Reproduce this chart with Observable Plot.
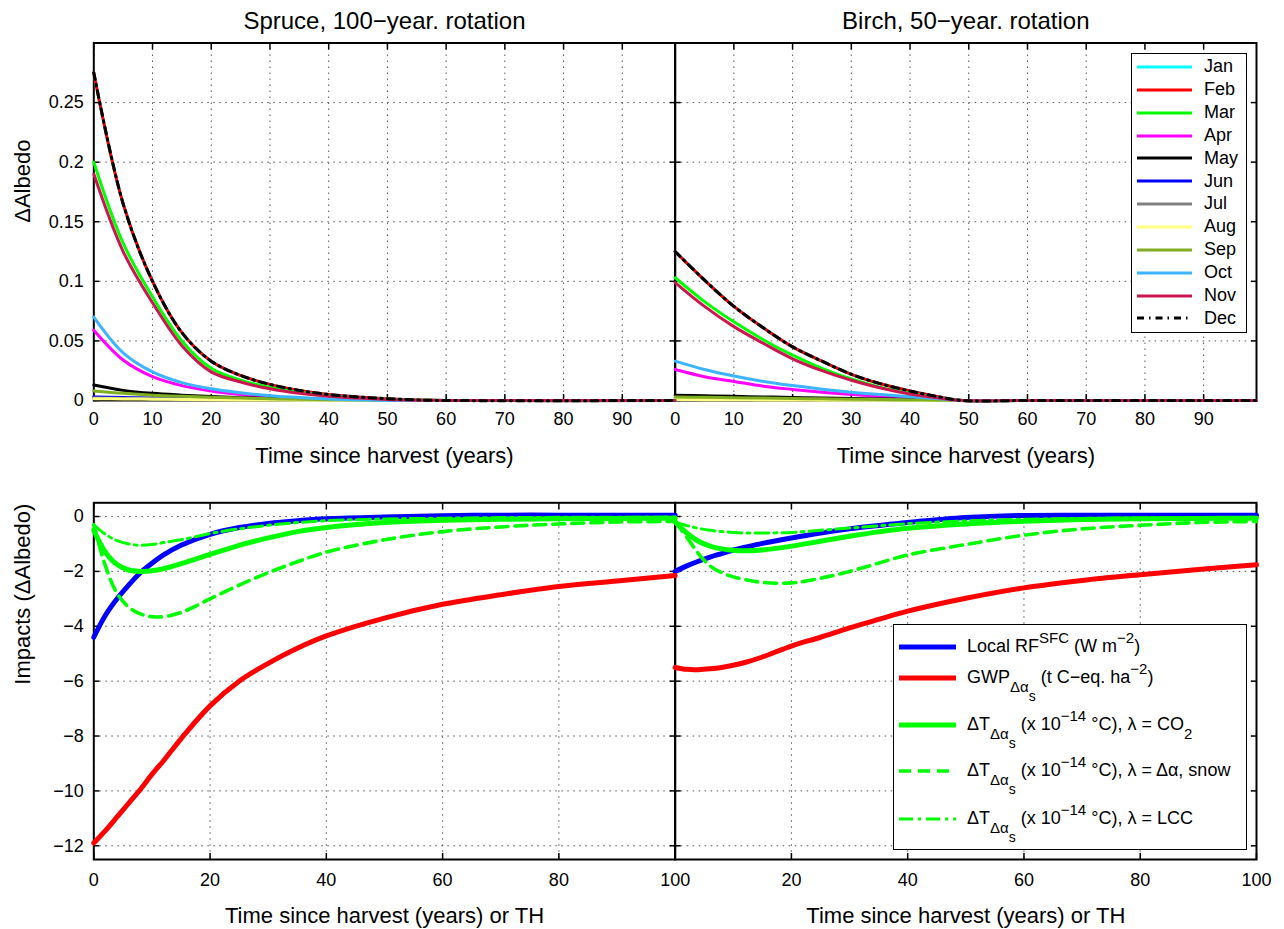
<!DOCTYPE html>
<html>
<head>
<meta charset="utf-8">
<script src="https://cdn.jsdelivr.net/npm/d3@7"></script>
<script src="https://cdn.jsdelivr.net/npm/@observablehq/plot@0.6"></script>
<style>
  html, body { margin: 0; padding: 0; background: #fff; }
  body { font-family: "Liberation Sans", Arial, Helvetica, sans-serif; color: #000; }
  #wrap { position: relative; width: 1284px; height: 929px; overflow: hidden; background: #fff; }
  #wrap > svg { position: absolute; left: 0; overflow: visible; }
  .lgbox { position: absolute; box-sizing: border-box; border: 1.6px solid #000; background: #fff; }
  .lgtext { position: absolute; font-size: 18px; line-height: 18px; white-space: nowrap; }
  .lgline { position: absolute; overflow: visible; }
  .sup { font-size: 15px; position: relative; top: -9px; }
  .sub { font-size: 15px; position: relative; top: 9px; }
  .sub .sub { font-size: 14px; top: 9px; }
</style>
</head>
<body>
<div id="wrap"></div>
<script>
// ---------------- data ----------------
const panels = ["Spruce", "Birch"];
const panelTitles = ["Spruce, 100\u2212year. rotation", "Birch, 50\u2212year. rotation"];
const months = ["Jan","Feb","Mar","Apr","May","Jun","Jul","Aug","Sep","Oct","Nov","Dec"];

const albedoXTicks = [0,10,20,30,40,50,60,70,80,90];
const albedoYTicks = [0,0.05,0.1,0.15,0.2,0.25];
const impactXTicks = [0,20,40,60,80,100];
const impactXTicksRight = [20,40,60,80,100];
const impactYTicks = [0,-2,-4,-6,-8,-10,-12];

// Spruce, 100-year rotation: ΔAlbedo by month
const spruceYears = [0,5,10,15,20,25,30,35,40,45,50,55,60,99];
const spruceJan = [0.275,0.165,0.100,0.057,0.033,0.021,0.0135,0.0085,0.005,0.003,0.0015,0.0005,0,0];
const spruceFeb = [0.275,0.165,0.100,0.057,0.033,0.021,0.0135,0.0085,0.005,0.003,0.0015,0.0005,0,0];
const spruceMar = [0.200,0.132,0.087,0.050,0.027,0.017,0.011,0.007,0.004,0.0022,0.001,0.0003,0,0];
const spruceApr = [0.059,0.034,0.020,0.0125,0.008,0.005,0.003,0.0018,0.001,0.0004,0.0001,0,0,0];
const spruceMay = [0.013,0.0085,0.006,0.0045,0.0033,0.0024,0.0017,0.0012,0.0008,0.0005,0.0002,0,0,0];
const spruceJun = [0.003,0.0025,0.002,0.0017,0.0014,0.0011,0.0009,0.0007,0.0005,0.0003,0.0001,0,0,0];
const spruceJul = [0.002,0.0017,0.0014,0.0012,0.001,0.0008,0.0006,0.0004,0.0003,0.0002,0.0001,0,0,0];
const spruceAug = [0.0015,0.0013,0.0011,0.0009,0.0007,0.0005,0.0004,0.0003,0.0002,0.0001,0,0,0,0];
const spruceSep = [0.008,0.006,0.0045,0.0035,0.0027,0.002,0.0015,0.001,0.0007,0.0004,0.0002,0,0,0];
const spruceOct = [0.070,0.040,0.024,0.015,0.0098,0.0065,0.004,0.0025,0.0012,0.0005,0.0001,0,0,0];
const spruceNov = [0.190,0.125,0.082,0.046,0.024,0.0155,0.0098,0.006,0.0035,0.002,0.0009,0.0003,0,0];
const spruceDec = [0.275,0.165,0.100,0.057,0.033,0.021,0.0135,0.0085,0.005,0.003,0.0015,0.0005,0,0];

// Birch, 50-year rotation: ΔAlbedo by month
const birchYears = [0,5,10,15,20,25,30,35,40,45,49,60,99];
const birchJan = [0.125,0.101,0.079,0.061,0.045,0.033,0.022,0.014,0.008,0.003,0,0,0];
const birchFeb = [0.125,0.101,0.079,0.061,0.045,0.033,0.022,0.014,0.008,0.003,0,0,0];
const birchMar = [0.103,0.083,0.066,0.051,0.038,0.027,0.018,0.011,0.006,0.0022,0,0,0];
const birchApr = [0.026,0.020,0.016,0.012,0.0093,0.007,0.005,0.0033,0.002,0.0008,0,0,0];
const birchMay = [0.0045,0.004,0.0035,0.003,0.0025,0.0021,0.0017,0.0013,0.0009,0.0004,0,0,0];
const birchJun = [0.0015,0.0013,0.0012,0.001,0.0009,0.0007,0.0006,0.0004,0.0003,0.0001,0,0,0];
const birchJul = [0.001,0.0009,0.0008,0.0007,0.0006,0.0005,0.0004,0.0003,0.0002,0.0001,0,0,0];
const birchAug = [0.0008,0.0007,0.0006,0.0005,0.0004,0.0003,0.0002,0.0002,0.0001,0,0,0,0];
const birchSep = [0.003,0.0027,0.0023,0.002,0.0017,0.0014,0.0011,0.0008,0.0005,0.0002,0,0,0];
const birchOct = [0.033,0.026,0.0205,0.016,0.0125,0.0095,0.007,0.005,0.0032,0.0014,0,0,0];
const birchNov = [0.099,0.079,0.062,0.048,0.035,0.025,0.017,0.0105,0.0055,0.002,0,0,0];
const birchDec = [0.125,0.101,0.079,0.061,0.045,0.033,0.022,0.014,0.008,0.003,0,0,0];

// Impacts
const impactYears = [0,2,4,6,8,10,12,15,20,25,30,35,40,50,60,70,80,90,100];
const spruceRF    = [-4.4,-3.6,-3.0,-2.5,-2.05,-1.7,-1.4,-1.05,-0.65,-0.4,-0.25,-0.15,-0.08,-0.02,0.03,0.05,0.05,0.05,0.05];
const spruceGWP   = [-11.9,-11.45,-10.95,-10.45,-9.95,-9.4,-8.9,-8.1,-6.9,-6.0,-5.35,-4.8,-4.35,-3.7,-3.2,-2.85,-2.55,-2.35,-2.15];
const spruceCO2   = [-0.5,-1.3,-1.75,-1.95,-2.0,-1.98,-1.9,-1.72,-1.38,-1.05,-0.78,-0.55,-0.4,-0.22,-0.14,-0.1,-0.08,-0.07,-0.06];
const spruceSnow  = [-0.3,-1.8,-2.8,-3.3,-3.55,-3.65,-3.65,-3.5,-3.0,-2.5,-2.05,-1.65,-1.3,-0.85,-0.55,-0.38,-0.27,-0.2,-0.18];
const spruceLCC   = [-0.3,-0.65,-0.88,-1.0,-1.05,-1.02,-0.95,-0.85,-0.62,-0.45,-0.32,-0.22,-0.15,-0.09,-0.06,-0.04,-0.03,-0.03,-0.02];
const birchRF     = [-2.0,-1.8,-1.63,-1.48,-1.35,-1.22,-1.12,-0.98,-0.78,-0.6,-0.45,-0.33,-0.22,-0.04,0.04,0.05,0.05,0.05,0.05];
const birchGWP    = [-5.5,-5.57,-5.58,-5.55,-5.5,-5.42,-5.32,-5.12,-4.72,-4.4,-4.06,-3.75,-3.45,-2.98,-2.6,-2.33,-2.12,-1.93,-1.76];
const birchCO2    = [-0.2,-0.6,-0.9,-1.08,-1.18,-1.23,-1.25,-1.22,-1.08,-0.9,-0.72,-0.56,-0.43,-0.27,-0.17,-0.11,-0.08,-0.07,-0.06];
const birchSnow   = [-0.2,-0.75,-1.35,-1.8,-2.05,-2.2,-2.3,-2.4,-2.42,-2.25,-2.0,-1.7,-1.4,-1.02,-0.68,-0.45,-0.32,-0.22,-0.18];
const birchLCC    = [-0.2,-0.33,-0.43,-0.5,-0.55,-0.58,-0.6,-0.6,-0.58,-0.5,-0.42,-0.34,-0.26,-0.16,-0.1,-0.07,-0.05,-0.04,-0.03];

const impactLabels = [
  'Local RF<span class="sup">SFC</span> (W m<span class="sup">\u22122</span>)',
  'GWP<span class="sub">\u0394\u03b1<span class="sub">s</span></span> (t C\u2212eq. ha<span class="sup">\u22122</span>)',
  '\u0394T<span class="sub">\u0394\u03b1<span class="sub">s</span></span> (x 10<span class="sup">\u221214</span> \u00b0C), \u03bb = CO<span class="sub">2</span>',
  '\u0394T<span class="sub">\u0394\u03b1<span class="sub">s</span></span> (x 10<span class="sup">\u221214</span> \u00b0C), \u03bb = \u0394\u03b1, snow',
  '\u0394T<span class="sub">\u0394\u03b1<span class="sub">s</span></span> (x 10<span class="sup">\u221214</span> \u00b0C), \u03bb = LCC'
];

// ---------------- styles ----------------
const monthColors = ["#00ffff","#ff0000","#00ff00","#ff00ff","#000000","#0000ff","#808080","#ffff80","#7fae22","#3db4ff","#cc1650","#000000"];
const monthDash = [null,null,null,null,null,null,null,null,null,null,null,"7,5,1.5,5"];
const impactColors = ["#0000ff","#ff0000","#00ff00","#00ff00","#00ff00"];
const impactDash = [null,null,null,"12,7","14,5,3,5"];
const impactWidths = [5,5,5,3.6,3];
const FONT = '"Liberation Sans", Arial, Helvetica, sans-serif';

// ---------------- build tables ----------------
const spruceAlbedo = [spruceJan,spruceFeb,spruceMar,spruceApr,spruceMay,spruceJun,spruceJul,spruceAug,spruceSep,spruceOct,spruceNov,spruceDec];
const birchAlbedo  = [birchJan,birchFeb,birchMar,birchApr,birchMay,birchJun,birchJul,birchAug,birchSep,birchOct,birchNov,birchDec];
const spruceImpacts = [spruceRF, spruceGWP, spruceCO2, spruceSnow, spruceLCC];
const birchImpacts  = [birchRF, birchGWP, birchCO2, birchSnow, birchLCC];

function rows(panel, years, vals) { return years.map((t, i) => ({panel, t, v: vals[i]})); }
const albedoData = months.map((m, i) => rows("Spruce", spruceYears, spruceAlbedo[i]).concat(rows("Birch", birchYears, birchAlbedo[i])));
const impactData = impactLabels.map((_, i) => rows("Spruce", impactYears, spruceImpacts[i]).concat(rows("Birch", impactYears, birchImpacts[i])));

const fmtNum = d => d < 0 ? "\u2212" + String(-d) : String(d);

function decor(xTicks, yTicks, padX, xTicksRight) {
  const gridStyle = {stroke: "#444", strokeOpacity: 0.9, strokeWidth: 1, strokeDasharray: "1.5,4.5"};
  const tk = {tickSize: -6, strokeWidth: 1.5, fill: "none", label: null, facetAnchor: null};
  const xText = {anchor: "bottom", tickSize: 0, tickPadding: padX, label: null, tickFormat: fmtNum, fontSize: 18};
  const xLabelMarks = xTicksRight
    ? [Plot.axisX(xTicks, {...xText, facetAnchor: "left"}), Plot.axisX(xTicksRight, {...xText, facetAnchor: "right"})]
    : [Plot.axisX(xTicks, xText)];
  return [
    Plot.gridX(xTicks, gridStyle),
    Plot.gridY(yTicks, gridStyle),
    Plot.frame({stroke: "#000", strokeWidth: 2}),
    Plot.axisX(xTicks, {anchor: "bottom", ...tk}),
    Plot.axisX(xTicks, {anchor: "top", ...tk}),
    Plot.axisY(yTicks, {anchor: "left", ...tk}),
    Plot.axisY(yTicks, {anchor: "right", ...tk}),
    ...xLabelMarks,
    Plot.axisY(yTicks, {anchor: "left", tickSize: 0, tickPadding: 10, label: null, tickFormat: fmtNum, fontSize: 18})
  ];
}

const wrap = document.getElementById("wrap");

// ---------------- top row: ΔAlbedo ----------------
const topPlot = Plot.plot({
  width: 1284, height: 470,
  marginLeft: 93.3, marginRight: 28, marginTop: 42.5, marginBottom: 70,
  style: {fontFamily: FONT, fontSize: "18px", background: "transparent", overflow: "visible", color: "#000"},
  fx: {domain: panels, padding: 0, round: false, axis: null},
  x: {domain: [0, 99]},
  y: {domain: [0, 0.3]},
  marks: [
    ...decor(albedoXTicks, albedoYTicks, 11.7),
    ...months.map((m, i) => Plot.line(albedoData[i], {
      x: "t", y: "v", fx: "panel", stroke: monthColors[i], strokeWidth: 3,
      strokeDasharray: monthDash[i], curve: "catmull-rom"
    })),
    Plot.text(panels, {fx: d => d, text: (d, i) => panelTitles[i], frameAnchor: "top", lineAnchor: "top", dy: -30.8, fontSize: 24}),
    Plot.text(["Time since harvest (years)"], {text: d => d, frameAnchor: "bottom", lineAnchor: "top", dy: 46.7, fontSize: 22}),
    Plot.text(["\u0394Albedo"], {text: d => d, frameAnchor: "left", rotate: -90, dx: -71.3, dy: 1, fontSize: 22, facetAnchor: "left"})
  ]
});
topPlot.style.top = "0px";
wrap.appendChild(topPlot);

// ---------------- bottom row: impacts ----------------
const botPlot = Plot.plot({
  width: 1284, height: 469,
  marginLeft: 93.3, marginRight: 28, marginTop: 42.3, marginBottom: 70,
  style: {fontFamily: FONT, fontSize: "18px", background: "transparent", overflow: "visible", color: "#000"},
  fx: {domain: panels, padding: 0, round: false, axis: null},
  x: {domain: [0, 100]},
  y: {domain: [-12.5, 0.5]},
  marks: [
    ...decor(impactXTicks, impactYTicks, 14, impactXTicksRight),
    ...impactLabels.map((_, i) => Plot.line(impactData[i], {
      x: "t", y: "v", fx: "panel", stroke: impactColors[i], strokeWidth: impactWidths[i],
      strokeDasharray: impactDash[i], curve: "catmull-rom"
    })),
    Plot.text(["Time since harvest (years) or TH"], {text: d => d, frameAnchor: "bottom", lineAnchor: "top", dy: 47.7, fontSize: 22}),
    Plot.text(["Impacts (\u0394Albedo)"], {text: d => d, frameAnchor: "left", rotate: -90, dx: -71.3, dy: 3.5, fontSize: 22, facetAnchor: "left"})
  ]
});
botPlot.style.top = "460px";
wrap.appendChild(botPlot);

// ---------------- legends (HTML overlays) ----------------
function addLegend(box, entries) {
  const b = document.createElement("div");
  b.className = "lgbox";
  Object.assign(b.style, {left: box.left + "px", top: box.top + "px", width: box.width + "px", height: box.height + "px"});
  wrap.appendChild(b);
  entries.forEach(e => {
    const ns = "http://www.w3.org/2000/svg";
    const s = document.createElementNS(ns, "svg");
    s.setAttribute("class", "lgline");
    s.setAttribute("width", box.x2 - box.x1);
    s.setAttribute("height", 12);
    s.style.left = box.x1 + "px";
    s.style.top = (e.y - 6) + "px";
    const ln = document.createElementNS(ns, "line");
    ln.setAttribute("x1", 0); ln.setAttribute("x2", box.x2 - box.x1);
    ln.setAttribute("y1", 6); ln.setAttribute("y2", 6);
    ln.setAttribute("stroke", e.color);
    ln.setAttribute("stroke-width", e.width);
    if (e.dash) ln.setAttribute("stroke-dasharray", e.dash);
    s.appendChild(ln);
    wrap.appendChild(s);
    const t = document.createElement("div");
    t.className = "lgtext";
    t.style.left = box.tx + "px";
    t.style.top = (e.y + 5.5 - 15.2) + "px";
    t.innerHTML = e.html;
    wrap.appendChild(t);
  });
}

addLegend({left: 1131, top: 53, width: 116, height: 280, x1: 1137, x2: 1192, tx: 1204},
  months.map((m, i) => ({y: 67 + i * 22.85, color: monthColors[i], width: 3, dash: monthDash[i], html: m})));

const impactRowY = [647, 678, 725, 771, 819];
addLegend({left: 893, top: 624, width: 354, height: 226, x1: 899, x2: 956, tx: 967},
  impactLabels.map((h, i) => ({y: impactRowY[i], color: impactColors[i], width: impactWidths[i], dash: impactDash[i], html: h})));
</script>
</body>
</html>
